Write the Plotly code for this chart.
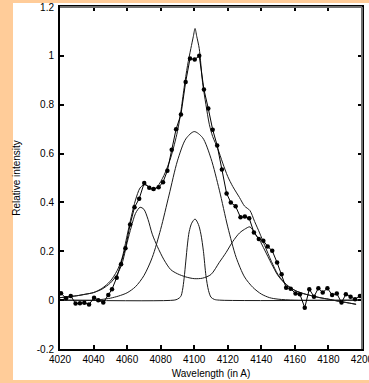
import plotly.graph_objects as go

# ---- observed spectrum (dots) ----
obs_wl = [4020.6, 4023.6, 4026.4, 4029.3, 4031.9, 4034.5, 4037.3, 4040.3, 4042.8, 4045.8,
          4048.8, 4051.0, 4053.8, 4056.4, 4059.0, 4061.8, 4064.4, 4067.2, 4070.2, 4073.2,
          4075.8, 4078.8, 4081.4, 4084.0, 4086.6, 4089.2, 4092.1, 4094.9, 4097.5, 4100.3,
          4103.0, 4105.8, 4108.4, 4111.0, 4113.7, 4116.5, 4119.3, 4121.8, 4124.7, 4127.6,
          4130.2, 4132.8, 4135.6, 4138.5, 4141.2, 4143.8, 4146.5, 4149.4, 4152.1, 4154.8,
          4157.5, 4160.4, 4163.0, 4165.9, 4168.6, 4171.4, 4174.0, 4176.6, 4179.4, 4182.2,
          4185.0, 4187.8, 4190.4, 4193.2, 4195.9, 4198.8]
obs_int = [0.028, 0.008, 0.017, -0.014, -0.013, -0.011, -0.018, 0.010, 0.000, -0.010,
           0.021, 0.045, 0.092, 0.147, 0.212, 0.310, 0.380, 0.415, 0.480, 0.460,
           0.455, 0.462, 0.483, 0.530, 0.616, 0.700, 0.760, 0.893, 0.989, 0.985,
           1.000, 0.862, 0.784, 0.698, 0.633, 0.535, 0.437, 0.400, 0.384, 0.339,
           0.342, 0.335, 0.277, 0.250, 0.243, 0.220, 0.202, 0.154, 0.106, 0.051,
           0.047, 0.027, 0.024, -0.031, 0.045, 0.014, 0.049, 0.031, 0.049, 0.021,
           0.027, -0.010, 0.024, 0.014, 0.004, 0.017]

# ---- total fit ----
fit_wl = [4020, 4025, 4030, 4035, 4040, 4045, 4050, 4054, 4057, 4060, 4062.5, 4065, 4067.7,
          4070, 4072.5, 4075, 4078, 4082, 4086, 4090, 4092, 4094, 4096, 4098, 4099.5, 4100.5,
          4101.5, 4103, 4105, 4107, 4109, 4111, 4114, 4117, 4120, 4123, 4127, 4130, 4133.2,
          4136, 4139, 4142, 4146, 4150, 4155, 4160, 4165, 4170, 4175, 4180, 4185, 4190, 4196.5]
fit_int = [0.010, 0.014, 0.018, 0.024, 0.031, 0.048, 0.078, 0.120, 0.172, 0.265, 0.342, 0.410, 0.459,
           0.472, 0.467, 0.450, 0.464, 0.511, 0.583, 0.690, 0.770, 0.870, 0.960, 1.030, 1.080, 1.112,
           1.080, 1.030, 0.890, 0.800, 0.720, 0.670, 0.621, 0.561, 0.506, 0.465, 0.420, 0.385, 0.367,
           0.322, 0.275, 0.224, 0.159, 0.104, 0.064, 0.040, 0.027, 0.018, 0.010, 0.004, -0.003, -0.009, -0.017]

# ---- side components (two Lorentzian-like peaks) ----
side_wl = [4020, 4025, 4030, 4035, 4040, 4045, 4050, 4054, 4057, 4060, 4062.5, 4065, 4067.7,
           4070, 4072.5, 4075, 4078, 4082, 4086, 4090, 4095, 4100, 4105, 4110, 4115, 4119,
           4123, 4127, 4130, 4133.2, 4136, 4139, 4142, 4146, 4150, 4155, 4160, 4165, 4170,
           4175, 4180, 4185, 4190, 4196.5]
side_int = [0.010, 0.014, 0.018, 0.024, 0.031, 0.045, 0.070, 0.105, 0.150, 0.235, 0.300, 0.355, 0.380,
            0.372, 0.330, 0.270, 0.220, 0.165, 0.125, 0.108, 0.095, 0.088, 0.090, 0.105, 0.155, 0.195,
            0.240, 0.275, 0.290, 0.300, 0.275, 0.245, 0.205, 0.150, 0.100, 0.062, 0.040, 0.027, 0.018,
            0.010, 0.004, -0.003, -0.009, -0.017]

# ---- broad central component ----
broad_wl = [4020, 4040, 4045, 4050, 4055, 4060, 4065, 4070, 4075, 4080, 4085, 4090, 4095, 4100,
            4105, 4110, 4115, 4120, 4125, 4130, 4135, 4140, 4145, 4150, 4160, 4199]
broad_int = [0.000, 0.000, 0.003, 0.008, 0.017, 0.030, 0.055, 0.100, 0.175, 0.290, 0.430, 0.570, 0.660, 0.690,
             0.665, 0.580, 0.450, 0.300, 0.175, 0.095, 0.052, 0.025, 0.010, 0.004, 0.000, 0.000]

# ---- narrow central component ----
narrow_wl = [4020, 4088, 4090, 4092, 4093, 4094, 4095, 4096, 4097, 4098.5, 4100.5, 4102.5, 4104,
             4105.5, 4107, 4108.5, 4110, 4112, 4115, 4199]
narrow_int = [0.000, 0.000, 0.004, 0.015, 0.040, 0.090, 0.160, 0.230, 0.280, 0.315, 0.332, 0.310, 0.270,
              0.200, 0.100, 0.040, 0.012, 0.003, 0.000, 0.000]

x_ticks = [4020, 4040, 4060, 4080, 4100, 4120, 4140, 4160, 4180, 4200]
x_tick_text = ["4020", "4040", "4060", "4080", "4100", "4120", "4140", "4160", "4180", "4200"]
y_ticks = [-0.2, 0, 0.2, 0.4, 0.6, 0.8, 1, 1.2]
y_tick_text = ["-0.2", "0", "0.2", "0.4", "0.6", "0.8", "1", "1.2"]

fig = go.Figure()
curve_style = dict(color="#1a1a1a", width=1)
for wl, iv in [(narrow_wl, narrow_int), (broad_wl, broad_int), (side_wl, side_int), (fit_wl, fit_int)]:
    fig.add_trace(go.Scatter(x=wl, y=iv, mode="lines", line=dict(shape="spline", smoothing=0.8, **curve_style),
                             showlegend=False, hoverinfo="skip"))
fig.add_trace(go.Scatter(x=obs_wl, y=obs_int, mode="lines+markers",
                         line=dict(color="black", width=1),
                         marker=dict(color="black", size=4.5), showlegend=False))

font = dict(family="Liberation Sans, Arial, Helvetica, sans-serif", size=10, color="black")
fig.update_layout(
    width=369, height=383,
    margin=dict(l=60, r=7, t=7, b=34, autoexpand=False),
    paper_bgcolor="#FFCC99",
    plot_bgcolor="white",
    font=font,
    shapes=[
        dict(type="rect", xref="paper", yref="paper", x0=-0.1556, x1=1.05, y0=-0.0906, y1=1.0117,
             fillcolor="white", line=dict(width=0), layer="below"),
        dict(type="line", xref="paper", yref="paper", x0=0, x1=1, y0=1, y1=1,
             line=dict(color="#707070", width=2), layer="above"),
        dict(type="line", xref="paper", yref="paper", x0=1, x1=1, y0=0, y1=1,
             line=dict(color="#707070", width=2), layer="above"),
    ],
)
fig.update_xaxes(range=[4020, 4200.02], tickvals=x_ticks, ticktext=x_tick_text, ticks="inside", ticklen=4,
                 tickwidth=1.5, tickcolor="black", showline=True, linecolor="black", linewidth=2,
                 mirror="ticks", showgrid=False, zeroline=False, tickfont=font, automargin=False,
                 ticklabeloverflow="allow",
                 title=dict(text="Wavelength (in A)", font=font, standoff=6))
fig.update_yaxes(range=[-0.2, 1.2], tickvals=y_ticks, ticktext=y_tick_text, ticks="inside", ticklen=4,
                 tickwidth=1.5, tickcolor="black", showline=True, linecolor="black", linewidth=2,
                 mirror="ticks", showgrid=False, zeroline=False, tickfont=font, automargin=False,
                 ticklabelstandoff=2,
                 title=dict(text="Relative intensity", font=font, standoff=14))

fig.write_html("out.html")
